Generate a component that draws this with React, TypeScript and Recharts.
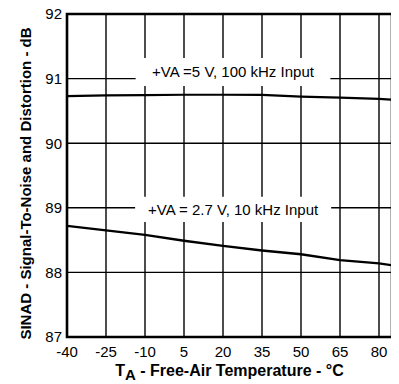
import React from 'react';
import { LineChart, Line, XAxis, YAxis, CartesianGrid, ReferenceArea } from 'recharts';

const temperatures = [-40, -25, -10, 5, 20, 35, 50, 65, 80, 85];
const sinad5V = [90.73, 90.74, 90.745, 90.75, 90.75, 90.748, 90.72, 90.705, 90.686, 90.675];
const sinad27V = [88.72, 88.65, 88.58, 88.49, 88.41, 88.34, 88.28, 88.19, 88.14, 88.11];
const xTicks = [-40, -25, -10, 5, 20, 35, 50, 65, 80];
const yTicks = [87, 88, 89, 90, 91, 92];
const label5V = '+VA =5 V, 100 kHz Input';
const label27V = '+VA = 2.7 V, 10 kHz Input';

const data = temperatures.map((t, i) => ({ t, a: sinad5V[i], b: sinad27V[i] }));

const FONT = 'Arial, "Liberation Sans", Helvetica, sans-serif';

const YTitle = (props: any) => {
  const vb = props.viewBox || {};
  const x = vb.x + 31;
  const y = vb.y + vb.height / 2 + 8;
  return (
    <text x={x} y={y} transform={`rotate(-90, ${x}, ${y})`} textAnchor="middle"
      fontFamily={FONT} fontWeight="bold" fontSize={15} fill="#000">
      SINAD - Signal-To-Noise and Distortion - dB
    </text>
  );
};

const XTitle = (props: any) => {
  const vb = props.viewBox || {};
  const x = vb.x + vb.width / 2;
  const y = vb.y + 39;
  return (
    <text x={x} y={y} textAnchor="middle" fontFamily={FONT} fontWeight="bold" fontSize={16} fill="#000">
      <tspan>T</tspan>
      <tspan dy={4} fontSize={15}>A</tspan>
      <tspan dy={-4}> - Free-Air Temperature - °C</tspan>
    </text>
  );
};

const BoxLabel = (text: string) => (props: any) => {
  const vb = props.viewBox || {};
  return (
    <text x={vb.x + vb.width / 2} y={vb.y + vb.height / 2} dy="0.36em" textAnchor="middle"
      fontFamily={FONT} fontSize={15} fill="#000">
      {text}
    </text>
  );
};

export default function App() {
  return (
    <div style={{ margin: '-8px 0 0 -8px', width: 399, height: 384 }}>
      <LineChart width={399} height={384} data={data}
        margin={{ top: 14, right: 7, left: 0, bottom: 0 }}>
        <CartesianGrid stroke="#000" strokeWidth={1.4} horizontalValues={yTicks} verticalValues={xTicks} />
        <XAxis dataKey="t" type="number" domain={[-40, 85]} ticks={xTicks} interval={0}
          allowDataOverflow tickLine={false} axisLine={false} tickSize={0} tickMargin={9} height={47}
          tick={{ fill: '#000', fontSize: 15, fontFamily: FONT }}
          label={<XTitle />} />
        <YAxis type="number" domain={[87, 92]} ticks={yTicks} interval={0}
          tickLine={false} axisLine={false} tickSize={0} tickMargin={5} width={67}
          tick={{ fill: '#000', fontSize: 15, fontFamily: FONT }}
          label={<YTitle />} />
        <ReferenceArea x1={-13.6} x2={61.3} y1={90.885} y2={91.32} fill="#fff" fillOpacity={1}
          stroke="none" label={BoxLabel(label5V)} ifOverflow="visible" />
        <ReferenceArea x1={-13.8} x2={61.6} y1={88.78} y2={89.17} fill="#fff" fillOpacity={1}
          stroke="none" label={BoxLabel(label27V)} ifOverflow="visible" />
        <Line dataKey="a" stroke="#000" strokeWidth={2.2} dot={false} isAnimationActive={false} type="linear" />
        <Line dataKey="b" stroke="#000" strokeWidth={2.4} dot={false} isAnimationActive={false} type="linear" />
        <ReferenceArea x1={-40} x2={85} y1={87} y2={92} fill="none" stroke="#000" strokeWidth={2.6}
          ifOverflow="visible" />
      </LineChart>
    </div>
  );
}
